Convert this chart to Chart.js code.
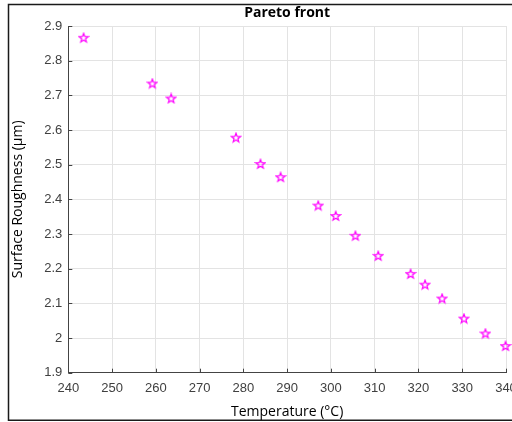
<!DOCTYPE html>
<html>
<head>
<meta charset="utf-8">
<script src="https://cdn.jsdelivr.net/npm/chart.js@4"></script>
<style>
  html, body { margin: 0; padding: 0; background: #fff; }
  canvas { display: block; }
</style>
</head>
<body>
<canvas id="chartPareto" width="512" height="422"></canvas>
<script>
const temperatures = [243.5, 259.2, 263.5, 278.3, 283.9, 288.5, 297.1, 301.1, 305.6, 310.8, 318.2, 321.5, 325.4, 330.4, 335.3, 339.9];
const roughness = [2.866, 2.734, 2.691, 2.578, 2.502, 2.464, 2.382, 2.352, 2.295, 2.237, 2.185, 2.154, 2.114, 2.056, 2.013, 1.977];
const xTicks = [240, 250, 260, 270, 280, 290, 300, 310, 320, 330, 340];
const yTicks = [1.9, 2, 2.1, 2.2, 2.3, 2.4, 2.5, 2.6, 2.7, 2.8, 2.9];

// pentagram outline marker, like the matlab 'p' marker
function makeStar(color) {
    const c = document.createElement('canvas');
    c.width = 12; c.height = 12;
    const g = c.getContext('2d');
    const cx = 6, cy = 6.3, ro = 4.8, ri = 2.0;
    g.beginPath();
    for (let i = 0; i < 10; i++) {
        const r = i % 2 === 0 ? ro : ri;
        const a = -Math.PI / 2 + i * Math.PI / 5;
        const px = cx + r * Math.cos(a), py = cy + r * Math.sin(a);
        if (i === 0) g.moveTo(px, py); else g.lineTo(px, py);
    }
    g.closePath();
    g.strokeStyle = color;
    g.lineWidth = 1.2;
    g.stroke();
    return c;
}

const points = temperatures.map((t, i) => ({x: t, y: roughness[i]}));

const framePlugin = {
    id: 'frame',
    afterLayout(chart) {
        // center the title over the plot area, not the whole canvas
        const tb = chart.titleBlock;
        if (tb) { tb.left = chart.chartArea.left; tb.right = chart.chartArea.right; }
    },
    beforeDraw(chart) {
        const ctx = chart.ctx;
        ctx.save();
        ctx.fillStyle = '#fff';
        ctx.fillRect(0, 0, chart.width, chart.height);
        ctx.strokeStyle = '#1a1a1a';
        ctx.lineWidth = 1.5;
        ctx.beginPath();
        ctx.moveTo(512, 4.5); ctx.lineTo(8.5, 4.5); ctx.lineTo(8.5, 420.3); ctx.lineTo(512, 420.3);
        ctx.stroke();
        ctx.restore();
    },
    beforeDatasetsDraw(chart) {
        // inward tick marks
        const ctx = chart.ctx;
        const xs = chart.scales.x, ys = chart.scales.y;
        const a = chart.chartArea;
        ctx.save();
        ctx.strokeStyle = '#444';
        ctx.lineWidth = 1;
        ctx.beginPath();
        xs.ticks.forEach(t => {
            const px = Math.round(xs.getPixelForValue(t.value)) + 0.5;
            ctx.moveTo(px, a.bottom); ctx.lineTo(px, a.bottom - 4);
        });
        ys.ticks.forEach(t => {
            const py = Math.round(ys.getPixelForValue(t.value)) + 0.5;
            ctx.moveTo(a.left, py); ctx.lineTo(a.left + 4, py);
        });
        ctx.stroke();
        ctx.restore();
    }
};

const tickFont = {family: 'Liberation Sans, Arial, sans-serif', size: 13};
const labelFont = {family: 'Open Sans, sans-serif', size: 14};

new Chart(document.getElementById('chartPareto'), {
    type: 'scatter',
    data: {
        datasets: [{
            label: 'Pareto front',
            data: points,
            pointStyle: makeStar('#ff00ff'),
            pointRadius: 5,
            clip: false
        }]
    },
    options: {
        responsive: false,
        animation: false,
        layout: {padding: {left: 0, right: 2.5, top: 0, bottom: 0}},
        plugins: {
            legend: {display: false},
            tooltip: {enabled: false},
            title: {
                display: true,
                text: 'Pareto front',
                color: '#000',
                font: {family: 'Open Sans, sans-serif', size: 14, weight: 'bold'},
                padding: {top: 5, bottom: 4.2}
            }
        },
        scales: {
            x: {
                type: 'linear',
                min: 240,
                max: 340,
                afterBuildTicks: s => { s.ticks = xTicks.map(v => ({value: v})); },
                afterFit: s => { s.height = 49.3; s.paddingLeft = 0; s.paddingRight = 0; },
                ticks: {
                    color: '#404040',
                    font: tickFont,
                    padding: 8,
                    maxRotation: 0,
                    callback: v => String(v)
                },
                grid: {color: '#e3e3e3', drawTicks: false},
                border: {color: '#444', width: 1},
                title: {
                    display: true,
                    text: 'Temperature (°C)',
                    color: '#000',
                    font: labelFont,
                    padding: {top: 2, bottom: 2}
                }
            },
            y: {
                type: 'linear',
                min: 1.9,
                max: 2.9,
                afterBuildTicks: s => { s.ticks = yTicks.map(v => ({value: v})); },
                afterFit: s => { s.width = 68.3; s.paddingTop = 0; s.paddingBottom = 0; },
                ticks: {
                    color: '#404040',
                    font: tickFont,
                    padding: 6,
                    callback: v => String(v)
                },
                grid: {color: '#e3e3e3', drawTicks: false},
                border: {color: '#444', width: 1},
                title: {
                    display: true,
                    text: 'Surface Roughness (μm)',
                    color: '#000',
                    font: labelFont,
                    padding: {top: 9.6, bottom: 0}
                }
            }
        }
    },
    plugins: [framePlugin]
});
</script>
</body>
</html>
